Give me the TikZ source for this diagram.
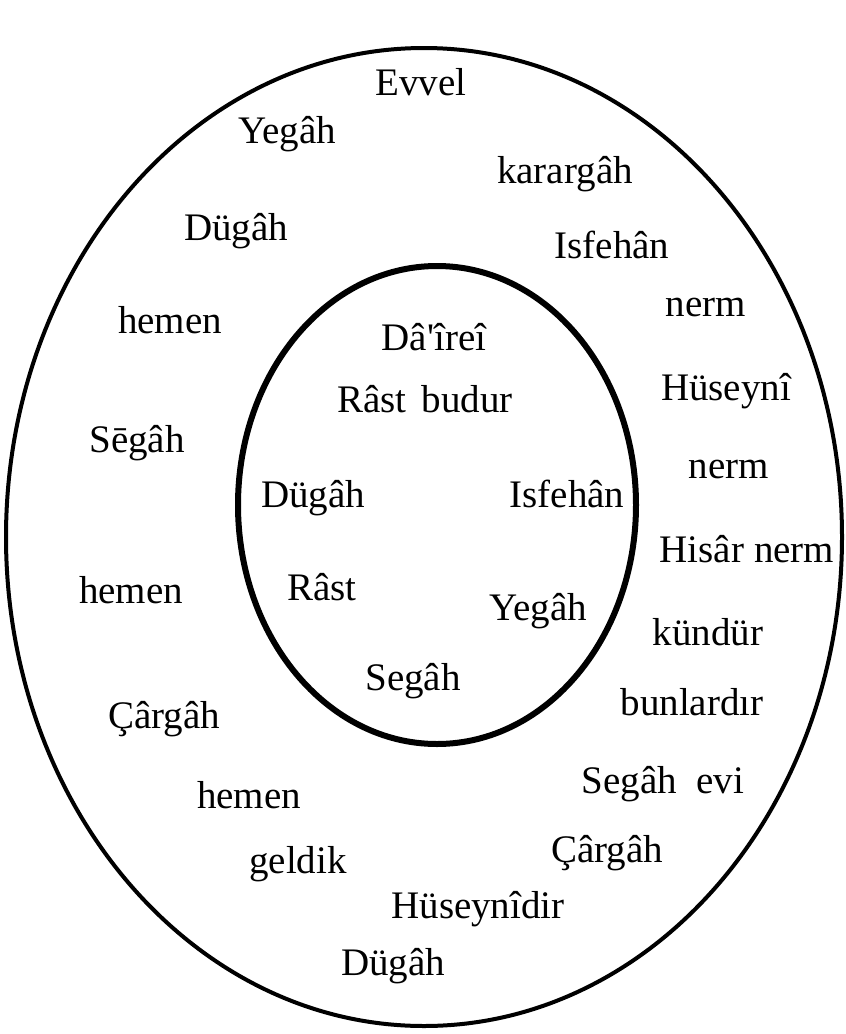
\documentclass[tikz,border=0pt]{standalone}
\usepackage{fontspec}
\setmainfont{Liberation Serif}
\newfontfamily\nomapfont{Liberation Serif}
\begin{document}
\begin{tikzpicture}[x=1pt,y=-1pt,
  word/.style={anchor=base,inner sep=0pt,font=\fontsize{39}{39}\selectfont},
  ring/.style={draw=black,line width=4pt},
  innerring/.style={draw=black,line width=6pt}]
\useasboundingbox (0,0) rectangle (846,1034);
\draw[ring] (424,537) ellipse [x radius=418, y radius=489];
\draw[innerring] (437,505) ellipse [x radius=199, y radius=239];
% outer ring words
\node[word] (w1) at (421,95) {Evvel};
\node[word] (w2) at (287,143) {Yegâh};
\node[word] (w3) at (565,183) {karargâh};
\node[word] (w4) at (236,240) {Dügâh};
\node[word] (w5) at (612,258) {Isfehân};
\node[word] (w6) at (170,333) {hemen};
\node[word] (w7) at (706,316) {nerm};
\node[word] (w8) at (726,400) {Hüseynî};
\node[word] (w9) at (137,452) {Sēgâh};
\node[word] (w10) at (729,478) {nerm};
\node[word] (w11) at (747,562) {Hisâr nerm};
\node[word] (w12) at (131,603) {hemen};
\node[word] (w13) at (708,645) {kündür};
\node[word] (w14) at (692,715) {bunlardır};
\node[word] (w15) at (164,728) {Çârgâh};
\node[word] (w16) at (249,808) {hemen};
\node[word] (w17) at (663,793) {Segâh\hspace{0.5em}evi};
\node[word] (w18) at (607,862) {Çârgâh};
\node[word] (w19) at (298,873) {geldik};
\node[word] (w20) at (478,918) {Hüseynîdir};
\node[word] (w21) at (393,975) {Dügâh};
% inner circle words
\node[word] (i1) at (434,350) {\nomapfont Dâ'îreî};
\node[word] (i2) at (425,412) {Râst\hspace{0.4em}budur};
\node[word] (i3) at (313,507) {Dügâh};
\node[word] (i4) at (567,507) {Isfehân};
\node[word] (i5) at (322,600) {Râst};
\node[word] (i6) at (538,620) {Yegâh};
\node[word] (i7) at (413,690) {Segâh};
\end{tikzpicture}
\end{document}
